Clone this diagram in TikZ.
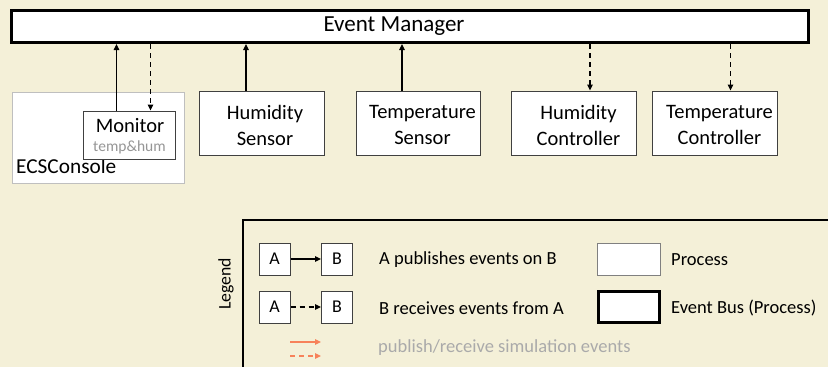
\documentclass[tikz,border=0pt]{standalone}
\usepackage{fontspec}
\setmainfont{Carlito}
\usetikzlibrary{arrows.meta}
\definecolor{bg}{RGB}{244,240,216}
\definecolor{boxline}{RGB}{64,64,64}
\definecolor{consoleline}{RGB}{191,191,191}
\definecolor{procline}{RGB}{128,128,128}
\definecolor{subtext}{RGB}{150,150,150}
\definecolor{simtext}{RGB}{170,170,170}
\definecolor{simarrow}{RGB}{247,130,90}
\begin{document}
\begin{tikzpicture}[x=1pt,y=-1pt,
  proc/.style={draw=boxline, fill=white, line width=1pt, inner sep=0pt, align=center,
               font=\fontsize{20.5}{26}\selectfont},
  ptext/.style={inner sep=0pt, align=center, font=\fontsize{20.5}{26}\selectfont},
  bus/.style={draw=black, fill=white, line width=3pt, inner sep=0pt},
  pub/.style={-{Triangle[length=6pt,width=5.5pt]}, line width=1.2pt},
  rec/.style={pub, dash pattern=on 5pt off 4pt},
  lbl/.style={anchor=west, inner sep=0pt, font=\fontsize{18.5}{22}\selectfont},
  small/.style={font=\fontsize{18}{20}\selectfont}]

\fill[bg] (0,0) rectangle (828,367);
\useasboundingbox (0,0) rectangle (828,367);

% Event manager bus
\node[bus, minimum width=797pt, minimum height=32pt] (em) at (410,26.5) {};
\node[inner sep=0pt, font=\fontsize{23}{27}\selectfont] (eml) at (394,26.5) {Event Manager};

% ECSConsole with Monitor
\node[draw=consoleline, fill=white, line width=1pt, minimum width=172pt, minimum height=91pt, inner sep=0pt] (ecs) at (98,137.5) {};
\node[anchor=base west, inner sep=0pt, font=\fontsize{21.3}{25}\selectfont] (ecsl) at (16,173) {ECSConsole};
\node[proc, minimum width=92pt, minimum height=48pt] (mon) at (129,135) {};
\node[anchor=base, inner sep=0pt, font=\fontsize{20.5}{25}\selectfont] (monl) at (130,132) {Monitor};
\node[anchor=base, inner sep=0pt, text=subtext, font=\fontsize{15.5}{18}\selectfont] (monsub) at (129.5,151) {temp\&hum};

% processes
\node[proc, minimum width=125pt, minimum height=64pt] (hs) at (261.5,123) {};
\node[proc, minimum width=124pt, minimum height=64pt] (ts) at (418,123) {};
\node[proc, minimum width=125pt, minimum height=64pt] (hc) at (573.5,123) {};
\node[proc, minimum width=125pt, minimum height=64pt] (tc) at (714.5,123) {};
\node[ptext] (hsl) at (265,125) {Humidity\\Sensor};
\node[ptext] (tsl) at (422.5,125) {Temperature\\Sensor};
\node[ptext] (hcl) at (578.5,125) {Humidity\\Controller};
\node[ptext] (tcl) at (719.5,125) {Temperature\\Controller};

% connectors
\draw[pub] ([xshift=34pt]mon.north west) -- ([xshift=34pt]mon.north west |- em.south);
\draw[rec] ([xshift=68pt]mon.north west |- em.south) -- ([xshift=68pt]mon.north west);
\draw[pub] ([xshift=-15.5pt]hs.north) -- ([xshift=-15.5pt]hs.north |- em.south);
\draw[pub] ([xshift=-16pt]ts.north) -- ([xshift=-16pt]ts.north |- em.south);
\draw[rec] ([xshift=16.5pt]hc.north |- em.south) -- ([xshift=16.5pt]hc.north);
\draw[rec] ([xshift=16pt]tc.north |- em.south) -- ([xshift=16pt]tc.north);

% legend frame
\draw[line width=1.5pt] (243,380) -- (243,220) -- (840,220);
\node[rotate=90, inner sep=0pt, font=\fontsize{17.7}{20}\selectfont] (leg) at (226,284) {Legend};

\node[proc, small, minimum width=31pt, minimum height=32pt] (a1) at (274.5,259) {A};
\node[proc, small, minimum width=31pt, minimum height=32pt] (b1) at (337,259) {B};
\node[proc, small, minimum width=31pt, minimum height=32pt] (a2) at (274.5,307) {A};
\node[proc, small, minimum width=31pt, minimum height=32pt] (b2) at (337,307) {B};
\draw[pub] (a1) -- (b1);
\draw[rec] (a2) -- (b2);

\coordinate (s1) at (290,342);
\coordinate (e1) at (321,342);
\coordinate (s2) at (290,356);
\coordinate (e2) at (321,356);
\draw[pub, draw=simarrow] (s1) -- (e1);
\draw[rec, draw=simarrow] (s2) -- (e2);

\node[lbl] (t1) at (379,260) {A publishes events on B};
\node[lbl] (t2) at (379,308) {B receives events from A};
\node[lbl, text=simtext] (t3) at (378,348) {publish/receive simulation events};

\node[proc, draw=procline, minimum width=63pt, minimum height=32pt] (pbox) at (629,259) {};
\node[bus, minimum width=61pt, minimum height=31pt] (ebox) at (629,307) {};
\node[lbl] (t4) at (671,260) {Process};
\node[lbl] (t5) at (671,308) {Event Bus (Process)};
\end{tikzpicture}
\end{document}
